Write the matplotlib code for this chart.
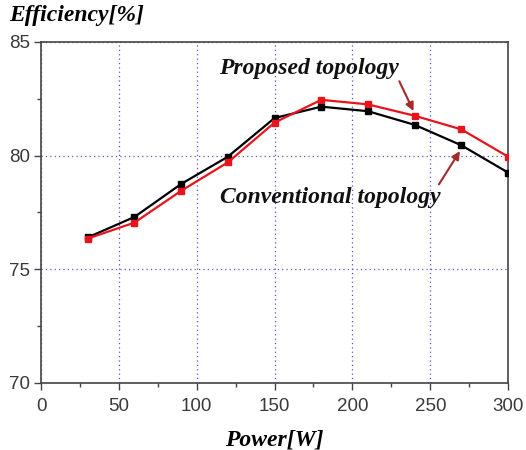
import matplotlib
matplotlib.use("Agg")
import matplotlib.pyplot as plt
from matplotlib.ticker import MultipleLocator

power = [30, 60, 90, 120, 150, 180, 210, 240, 270, 300]
conventional = [76.4, 77.3, 78.75, 79.95, 81.65, 82.15, 81.95, 81.35, 80.45, 79.25]
proposed = [76.35, 77.05, 78.45, 79.7, 81.45, 82.45, 82.25, 81.75, 81.15, 79.95]

serif = ["Liberation Serif", "DejaVu Serif"]
sans = ["Liberation Sans", "DejaVu Sans"]

fig = plt.figure(figsize=(5.26, 4.5), dpi=100)
ax = fig.add_axes([0.078, 0.149, 0.888, 0.758])

ax.plot(power, conventional, color="black", lw=1.6, marker="s", ms=5, zorder=3)
ax.plot(power, proposed, color="#e8141c", lw=1.6, marker="s", ms=5, zorder=4)

ax.set_xlim(0, 300)
ax.set_ylim(70, 85)
ax.xaxis.set_major_locator(MultipleLocator(50))
ax.xaxis.set_minor_locator(MultipleLocator(25))
ax.yaxis.set_major_locator(MultipleLocator(5))
ax.yaxis.set_minor_locator(MultipleLocator(2.5))
ax.tick_params(which="both", direction="out", colors="#444444", labelcolor="#3a3a3a",
               labelsize=13.5, width=1)
ax.tick_params(which="major", length=5, pad=3)
ax.tick_params(axis="x", which="major", pad=6)
ax.tick_params(which="minor", length=3)
for lab in ax.get_xticklabels() + ax.get_yticklabels():
    lab.set_family(sans)
for sp in ax.spines.values():
    sp.set_color("#444444")
    sp.set_linewidth(1.2)

ax.grid(True, which="major", color="#5555cc", linestyle=(0, (1, 2.5)), linewidth=0.9)

ax.set_xlabel("Power[W]", family=serif, fontsize=17, fontweight="bold", style="italic", labelpad=10)
fig.text(0.018, 0.965, "Efficiency[%]", family=serif, fontsize=17, fontweight="bold",
         style="italic", ha="left", va="center")

arrow_col = "#a8282c"
ax.annotate("Proposed topology", xy=(240, 81.85), xytext=(172, 83.85),
            family=serif, fontsize=17, fontweight="bold", style="italic",
            ha="center", va="center", color="#111111",
            arrowprops=dict(arrowstyle="-|>", color=arrow_col, lw=1.5,
                            mutation_scale=12, shrinkA=0, shrinkB=2, relpos=(0.99, 0.1)))
ax.annotate("Conventional topology", xy=(270, 80.3), xytext=(186, 78.15),
            family=serif, fontsize=17, fontweight="bold", style="italic",
            ha="center", va="center", color="#111111",
            arrowprops=dict(arrowstyle="-|>", color=arrow_col, lw=1.5,
                            mutation_scale=12, shrinkA=0, shrinkB=2, relpos=(0.98, 0.95)))

fig.savefig("out.png", dpi=100)
